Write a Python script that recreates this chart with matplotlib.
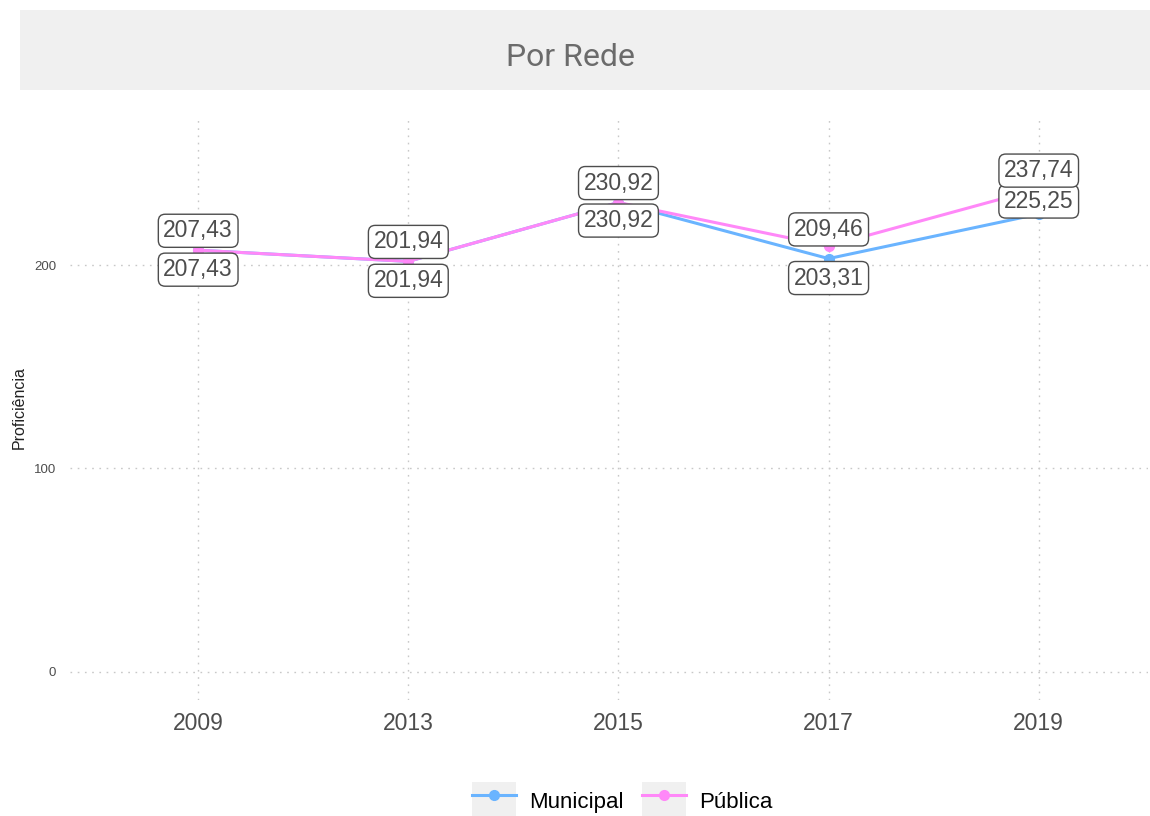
import matplotlib.pyplot as plt
from matplotlib.patches import Rectangle, Patch
from matplotlib.lines import Line2D
from matplotlib.legend_handler import HandlerTuple

anos = ["2009", "2013", "2015", "2017", "2019"]
municipal = [207.43, 201.94, 230.92, 203.31, 225.25]
publica = [207.43, 201.94, 230.92, 209.46, 237.74]

COR_MUN = "#6AB4FF"
COR_PUB = "#FF88F8"
CINZA = "#4D4D4D"

# deslocamento dos rótulos (pontos), imitando o ggrepel
desl_mun = [-14, -14, -13, -14, 9]
desl_pub = [14, 14, 14, 12, 13]

plt.rcParams['font.family'] = ['Liberation Sans', 'DejaVu Sans']

fig = plt.figure(figsize=(11.5, 8.16), dpi=100)
W, H = 1150, 816

# faixa do título (facet strip)
fig.patches.append(Rectangle((20 / W, 1 - 90 / H), 1130 / W, 80 / H,
                             transform=fig.transFigure, facecolor="#F0F0F0",
                             edgecolor="none", zorder=0))
fig.text(570 / W, 1 - 58 / H, "Por Rede", ha="center", va="center",
         fontsize=23, color="#6B6B6B",
         family=['Liberation Sans Narrow', 'Roboto', 'DejaVu Sans'])

ax = fig.add_axes([70 / W, 1 - 700 / H, 1078 / W, 585 / H])
x = list(range(len(anos)))

ax.plot(x, municipal, color=COR_MUN, lw=2.2, marker="o", ms=7, zorder=3)
ax.plot(x, publica, color=COR_PUB, lw=2.2, marker="o", ms=7, zorder=4)

caixa = dict(boxstyle="round,pad=0.22,rounding_size=0.3", fc="white",
             ec=CINZA, lw=1.0)
for i in x:
    ax.annotate(f"{municipal[i]:.2f}".replace(".", ","), (i, municipal[i]),
                xytext=(0, desl_mun[i]), textcoords="offset points",
                ha="center", va="center", fontsize=16.5, color=CINZA,
                bbox=caixa, zorder=5)
    ax.annotate(f"{publica[i]:.2f}".replace(".", ","), (i, publica[i]),
                xytext=(0, desl_pub[i]), textcoords="offset points",
                ha="center", va="center", fontsize=16.5, color=CINZA,
                bbox=caixa, zorder=6)

ax.set_xlim(-0.61, 4.52)
ax.set_ylim(-14, 274)
ax.set_xticks(x)
ax.set_xticklabels(anos, fontsize=16.5, color=CINZA)
ax.set_yticks([0, 100, 200])
ax.tick_params(axis="y", labelsize=9.5, labelcolor=CINZA, length=0, pad=10)
ax.tick_params(axis="x", length=0, pad=9)
ax.set_ylabel("Proficiência", fontsize=11.5, color="#222222", labelpad=5)
ax.grid(True, color="#C8C8C8", ls=(0, (1.2, 4)), lw=1.0)
ax.set_axisbelow(True)
for s in ax.spines.values():
    s.set_visible(False)

chave = Patch(facecolor="#F0F0F0", edgecolor="none")
h_mun = (chave, Line2D([], [], color=COR_MUN, lw=2.2, marker="o", ms=7))
h_pub = (chave, Line2D([], [], color=COR_PUB, lw=2.2, marker="o", ms=7))
fig.legend([h_mun, h_pub], ["Municipal", "Pública"],
           handler_map={tuple: HandlerTuple(ndivide=1)},
           loc="center", bbox_to_anchor=(0.541, 0.018), ncol=2, frameon=False,
           fontsize=16, handlelength=2.0, handleheight=2.3, handletextpad=0.6,
           columnspacing=0.8)

fig.savefig("out.png", dpi=100)
